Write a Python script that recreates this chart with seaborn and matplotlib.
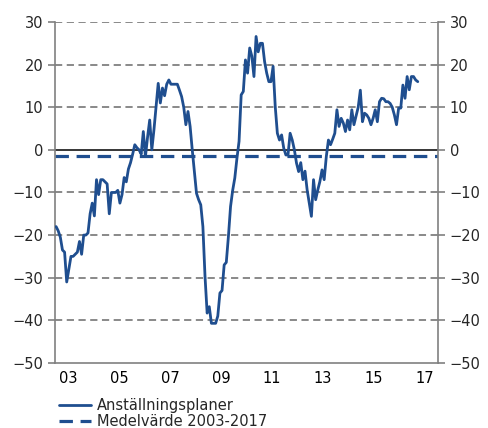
import numpy as np
import pandas as pd
import seaborn as sns
import matplotlib.pyplot as plt

# monthly values Jan 2003 - Mar 2017
v2003 = [-18, -19, -20.5, -23.5, -24, -31, -28, -25, -25, -24.5, -24, -21.5]
v2004 = [-24.5, -20, -20, -19.5, -15, -12.5, -15.5, -7, -10.5, -7, -7, -7.5]
v2005 = [-8, -15, -10, -10, -10, -9.5, -12.5, -10.5, -6.5, -7.5, -4.5, -3]
v2006 = [-1, 1.2, 0.5, 0, -1, 4.3, -1.6, 3, 7, 0, 4.7, 10.2]
v2007 = [15.6, 11, 14.5, 12.7, 15.4, 16.4, 15.4, 15.4, 15.4, 15.4, 14, 12.5]
v2008 = [10, 5.9, 9, 5.5, 0, -5, -10.2, -11.7, -12.9, -18, -29.7, -38.3]
v2009 = [-36.8, -40.7, -40.7, -40.7, -39, -33.6, -33, -27, -26.4, -20.3, -13.3, -9.5]
v2010 = [-6.6, -2, 2, 12.9, 13.7, 21.1, 18, 23.9, 22, 17.2, 26.6, 23]
v2011 = [25, 25, 20.7, 18, 16, 16, 19.6, 10.2, 3.9, 2.3, 3.5, 0.4]
v2012 = [-1.2, -1.2, 3.9, 2.3, 0, -3.1, -5.1, -3, -7, -5, -9.4, -12.5]
v2013 = [-15.6, -7, -11.7, -9.4, -7.4, -4.7, -7, -1.6, 2.3, 1.2, 2.5, 3.9]
v2014 = [9.4, 5.5, 7.4, 6.3, 4.3, 7, 4.7, 9.4, 5.9, 8, 10, 14]
v2015 = [6.6, 8.6, 8.2, 7.4, 5.9, 7.4, 9.4, 6.6, 11.3, 12.1, 12, 11.3]
v2016 = [11.3, 10.9, 10, 8.2, 5.9, 9.8, 9.8, 15.2, 12.1, 17.2, 14.1, 17.2]
v2017 = [17.2, 16.4, 16]
mean_value = -1.5

year_labels = ['03', '05', '07', '09', '11', '13', '15', '17']

values = (v2003 + v2004 + v2005 + v2006 + v2007 + v2008 + v2009 + v2010
          + v2011 + v2012 + v2013 + v2014 + v2015 + v2016 + v2017)
df = pd.DataFrame({'x': 2003 + (np.arange(len(values)) + 0.5) / 12, 'y': values})

blue = '#1f4e8f'
grey = '#808080'

sns.set_style('white')
plt.rcParams['font.family'] = ['DejaVu Sans']

fig = plt.figure(figsize=(4.89, 4.28), dpi=100)
ax = fig.add_axes([0.1125, 0.152, 0.7832, 0.7966])

for yv in range(-40, 31, 10):
    if yv == 0:
        ax.axhline(0, color='black', lw=1.1, zorder=1)
    else:
        ax.axhline(yv, color=grey, lw=1.3, ls=(0, (4, 2.5)), zorder=1)

ax.axhline(mean_value, color=blue, lw=2.3, ls=(0, (4.2, 2.4)), zorder=2,
           label='Medelvärde 2003-2017')
sns.lineplot(data=df, x='x', y='y', ax=ax, color=blue, lw=2.0, zorder=3,
             label='Anställningsplaner')

ax.set_xlim(2003, 2018)
ax.set_ylim(-50, 30)
ax.set_yticks(range(-50, 31, 10))
ax.set_xticks(range(2003, 2019), minor=True)
ax.set_xticks([2003.5 + 2 * k for k in range(len(year_labels))])
ax.set_xticklabels(year_labels)
ax.tick_params(axis='x', which='major', length=0, pad=6, labelsize=10.5, colors='black')
ax.tick_params(axis='x', which='minor', length=5, direction='out', color=grey, width=1.2)
ax.tick_params(axis='y', length=5, direction='out', color=grey, width=1.2,
               left=True, right=True, labelleft=True, labelright=True, labelsize=10.5)
ax.set_xlabel('')
ax.set_ylabel('')
for side in ['left', 'right', 'bottom']:
    ax.spines[side].set_color(grey)
    ax.spines[side].set_linewidth(1.2)
ax.spines['top'].set_visible(False)

h, l = ax.get_legend_handles_labels()
ax.legend(h[::-1], l[::-1], loc='upper left', bbox_to_anchor=(-0.005, -0.085),
          frameon=False, fontsize=10.5, handlelength=2.2, handletextpad=0.4,
          labelspacing=0.1, borderaxespad=0)

fig.savefig('out.png', dpi=100)
